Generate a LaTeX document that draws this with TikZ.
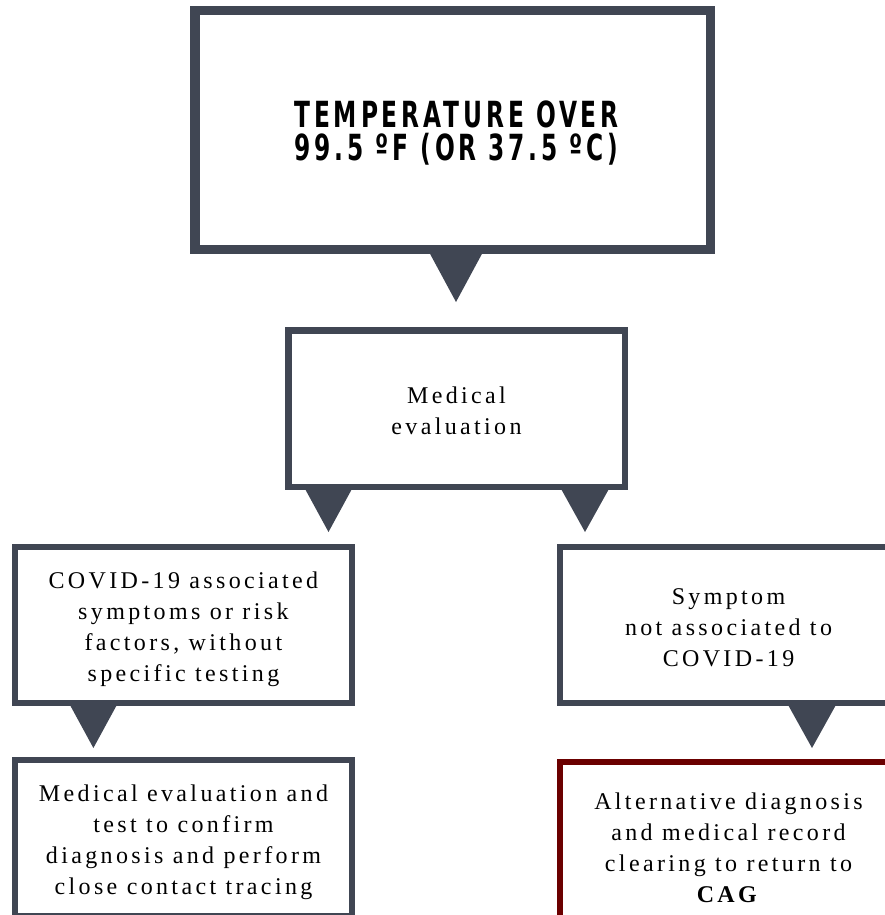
\documentclass[tikz,border=0pt]{standalone}
\usepackage{fontspec}
\setmainfont{Liberation Serif}[LetterSpace=14]
\newfontfamily\titlefont{DejaVu Sans Condensed}[LetterSpace=15]
\usetikzlibrary{calc}
\definecolor{slate}{RGB}{64,70,83}
\definecolor{wine}{RGB}{107,0,0}
\tikzset{
  box/.style={draw=slate, fill=white, line width=6pt, inner sep=0pt,
    minimum width=337pt, minimum height=156pt},
  label text/.style={inner sep=0pt, align=center, font=\fontsize{24}{31}\selectfont},
  pointer/.style={fill=slate}
}
\newcommand{\pointerfrom}[4]{% node, x offset, half width, height
  \fill[pointer] ($(#1.south)+(#2-#3,-3)$) -- ($(#1.south)+(#2+#3,-3)$) -- ($(#1.south)+(#2,#4)$) -- cycle;}
\begin{document}
\begin{tikzpicture}[x=1pt,y=-1pt]
\useasboundingbox (0,0) rectangle (885,915);
\clip (0,0) rectangle (885,915);
\fill[white] (0,0) rectangle (885,915);

\node[box, line width=9.5pt, minimum width=515.5pt, minimum height=238.5pt] (top) at (452.5,130) {};
\node[label text, font=\fontsize{36}{33}\selectfont] (topt) at ($(top.center)+(4,3.5)$)
  {\titlefont\bfseries\scalebox{0.72}[1]{TEMPERATURE OVER}\\\titlefont\bfseries\scalebox{0.72}[1]{99.5 ºF (OR 37.5 ºC)}};

\node[box, line width=6.5pt, minimum width=336.5pt, minimum height=156.5pt] (med) at (456.5,408.5) {};
\node[label text] (medt) at ($(med.center)+(0,2)$) {Medical\\evaluation};

\node[box] (sym) at (183.4,625) {};
\node[label text] (symt) at ($(sym.center)+(0,4)$) {COVID-19 associated\\symptoms or risk\\factors, without\\specific testing};
\node[box] (nsym) at (728.5,625) {};
\node[label text] (nsymt) at ($(nsym.center)+(0,3)$) {Symptom\\not associated to\\COVID-19};
\node[box] (test) at (183.5,838) {};
\node[label text] (testt) at ($(test.center)+(0,4)$) {Medical evaluation and\\test to confirm\\diagnosis and perform\\close contact tracing};
\node[box, draw=wine] (alt) at (728.5,840) {};
\node[label text] (altt) at ($(alt.center)+(0,8)$) {Alternative diagnosis\\and medical record\\clearing to return to\\\textbf{CAG}};

\pointerfrom{top}{3.5}{27.5}{48}
\pointerfrom{med}{-128}{24.5}{42}
\pointerfrom{med}{128.5}{25}{42}
\pointerfrom{sym}{-90}{24.5}{42}
\pointerfrom{nsym}{83.5}{25}{42}
\end{tikzpicture}
\end{document}
